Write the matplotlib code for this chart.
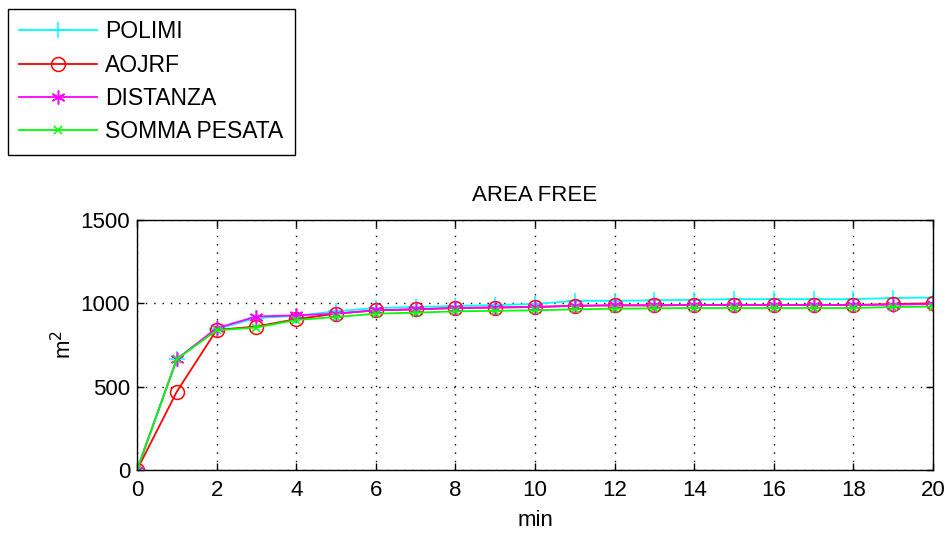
import numpy as np
import matplotlib
matplotlib.use("Agg")
import matplotlib.pyplot as plt

plt.rcParams["font.family"] = ["Liberation Sans", "DejaVu Sans"]

minutes = np.arange(0, 21)
polimi = [0, 665, 845, 912, 925, 952, 972, 978, 984, 990, 996, 1015, 1015, 1018,
          1022, 1025, 1025, 1025, 1025, 1032, 1035]
aojrf = [0, 470, 840, 861, 905, 938, 958, 964, 972, 975, 978, 985, 988, 988,
         990, 990, 990, 990, 990, 996, 1000]
distanza = [0, 665, 851, 921, 928, 938, 958, 964, 972, 975, 978, 985, 988, 988,
            990, 990, 990, 990, 990, 992, 995]
somma_pesata = [0, 665, 838, 855, 900, 918, 938, 944, 952, 955, 958, 964, 968, 970,
                972, 972, 972, 972, 972, 978, 980]

# name, values, colour, marker, marker size
series = [
    ("POLIMI", polimi, (0, 1, 1), "+", 11),
    ("AOJRF", aojrf, (1, 0, 0), "o", 10),
    ("DISTANZA", distanza, (1, 0, 1), (6, 2, 0), 10),
    ("SOMMA PESATA", somma_pesata, (0, 1, 0), "x", 6),
]

fig = plt.figure(figsize=(9.46, 5.34), dpi=100)
ax = fig.add_axes([137 / 946, 64 / 534, 796 / 946, 250 / 534])

for name, vals, col, mk, ms in series:
    ax.plot(minutes, vals, color=col, marker=mk, markersize=ms,
            markerfacecolor="none", markeredgecolor=col, markeredgewidth=1.1,
            linewidth=1.3, label=name)

ax.set_xlim(0, 20)
ax.set_ylim(0, 1500)
ax.set_xticks(np.arange(0, 21, 2))
ax.set_yticks([0, 500, 1000, 1500])
ax.grid(True, color="black", linestyle=(0, (1, 5)), linewidth=1.0)
ax.tick_params(direction="in", top=True, right=True, length=5, width=1,
               labelsize=16, pad=5)
ax.tick_params(axis="x", pad=7)
for sp in ax.spines.values():
    sp.set_linewidth(1.0)

ax.set_title("AREA FREE", fontsize=16, pad=14)
ax.set_xlabel("min", fontsize=16, labelpad=7)
ax.set_ylabel("m$^2$", fontsize=16, labelpad=3)

fig.legend(loc="upper left", bbox_to_anchor=(8 / 946, 1 - 9 / 534),
           borderaxespad=0, fancybox=False, edgecolor="black", framealpha=1,
           fontsize=16.5, handlelength=3.4, labelspacing=0.45, borderpad=0.5,
           handletextpad=0.35)

fig.savefig("out.png", dpi=100)
